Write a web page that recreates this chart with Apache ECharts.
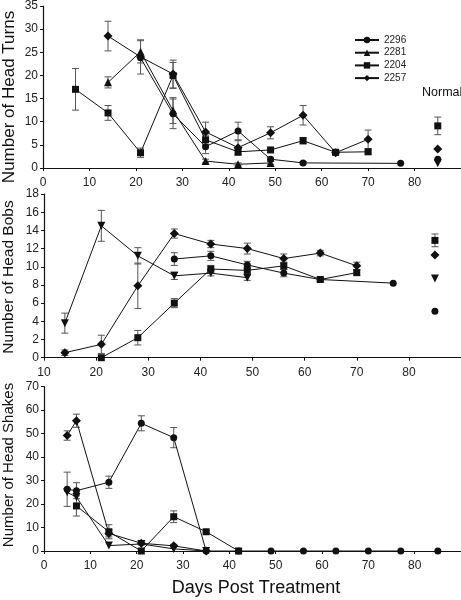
<!DOCTYPE html>
<html>
<head>
<meta charset="utf-8">
<script src="https://cdn.jsdelivr.net/npm/echarts@6/dist/echarts.min.js"></script>
<style>
html,body{margin:0;padding:0;background:#fff;}
#chart{width:461px;height:600px;}
</style>
</head>
<body>
<div id="chart"></div>
<script>
// ---------- DATA ----------
const seriesNames = ['2296', '2281', '2204', '2257'];
const normalDay = 85;

// Head Turns
const turnsDays2296 = [21, 28, 35, 42, 49, 56, 77];
const turns2296     = [23.8, 11.7, 4.6, 8.0, 1.9, 1.1, 1.0];
const turnsErr2296  = [0, 3.2, 1.5, 1.9, 0.4, 0.3, 0];
const turnsDays2281 = [14, 21, 28, 35, 42, 49];
const turns2281     = [18.5, 25.1, 12.4, 1.5, 0.8, 1.1];
const turnsErr2281  = [1.2, 2.4, 2.8, 0.4, 0.3, 0.3];
const turnsDays2204 = [7, 14, 21, 28, 35, 42, 49, 56, 63, 70];
const turns2204     = [17.0, 11.9, 3.3, 20.0, 6.1, 3.5, 3.9, 5.9, 3.4, 3.5];
const turnsErr2204  = [4.5, 1.6, 1.0, 2.8, 1.0, 0.8, 0.5, 0.7, 0.5, 0.4];
const turnsDays2257 = [14, 21, 28, 35, 42, 49, 56, 63, 70];
const turns2257     = [28.5, 24.0, 20.3, 7.8, 4.4, 7.6, 11.4, 3.3, 6.2];
const turnsErr2257  = [3.2, 3.7, 3.0, 2.1, 1.5, 1.3, 2.1, 0.5, 2.0];
const turnsNormal    = [1.9, 1.0, 9.1, 4.1];
const turnsNormalErr = [0, 0, 1.9, 0];

// Head Bobs
const bobsDays2296 = [35, 42, 49, 56, 63, 77];
const bobs2296     = [10.85, 11.2, 10.2, 9.3, 8.6, 8.2];
const bobsErr2296  = [0.7, 0.5, 0.4, 0.4, 0.2, 0];
const bobsDays2281 = [14, 21, 28, 35, 42, 49];
const bobs2281     = [3.8, 14.5, 11.2, 9.0, 9.3, 8.8];
const bobsErr2281  = [1.1, 1.7, 0.9, 0.4, 0.3, 0.3];
const bobsDays2204 = [21, 28, 35, 42, 49, 56, 63, 70];
const bobs2204     = [0, 2.2, 6.0, 9.75, 9.6, 10.1, 8.6, 9.35];
const bobsErr2204  = [0, 0.8, 0.5, 0.4, 0.5, 0.4, 0.2, 0.3];
const bobsDays2257 = [14, 21, 28, 35, 42, 49, 56, 63, 70];
const bobs2257     = [0.55, 1.47, 7.9, 13.65, 12.5, 12.0, 10.9, 11.5, 10.1];
const bobsErr2257  = [0.3, 1.0, 2.5, 0.5, 0.4, 0.6, 0.5, 0.3, 0.4];
const bobsNormal    = [5.1, 8.7, 12.9, 11.3];
const bobsNormalErr = [0, 0, 0.7, 0];

// Head Shakes
const shakesDays2296 = [5, 7, 14, 21, 28, 35, 42, 49, 56, 63, 70, 77];
const shakes2296     = [26.3, 25.7, 29.3, 54.4, 48.3, 0, 0, 0, 0, 0, 0, 0];
const shakesErr2296  = [7.3, 3.4, 2.6, 3.2, 4.3, 0, 0, 0, 0, 0, 0, 0];
const shakesDays2281 = [5, 7, 14, 21, 28, 35];
const shakes2281     = [25.0, 23.0, 2.3, 3.0, 0.9, 0];
const shakesErr2281  = [0, 0, 0, 0, 0, 0];
const shakesDays2204 = [7, 14, 21, 28, 35, 42];
const shakes2204     = [19.2, 8.2, 0, 14.6, 8.2, 0];
const shakesErr2204  = [4.3, 3.0, 0, 2.5, 0.5, 0];
const shakesDays2257 = [5, 7, 14, 21, 28, 35];
const shakes2257     = [49.2, 55.5, 7.5, 3.3, 2.2, 0];
const shakesErr2257  = [2.0, 2.8, 1.5, 0.8, 0.6, 0];
const shakesNormal    = [0, null, null, null];
const shakesNormalErr = [0, 0, 0, 0];

// Axis ticks
const yTurnsMax = 35, yTurnsStep = 5;
const yBobsMax = 18, yBobsStep = 2;
const yShakesMax = 70, yShakesStep = 10;

// ---------- CHART ----------
const FONT = 'Liberation Sans, Arial, Helvetica, sans-serif';
const INK = '#111';
const ERR = '#555';

const symbolsTop = [
  {symbol: 'circle', size: 7, rot: 0},
  {symbol: 'triangle', size: 8, rot: 0},
  {symbol: 'rect', size: 7, rot: 0},
  {symbol: 'diamond', size: 9, rot: 0}
];
const symbolsDown = [
  {symbol: 'circle', size: 7, rot: 0},
  {symbol: 'triangle', size: 8, rot: 180},
  {symbol: 'rect', size: 7, rot: 0},
  {symbol: 'diamond', size: 9, rot: 0}
];

function zip(days, vals) { return days.map((d, i) => [d, vals[i]]); }

function lineSeries(name, days, vals, sym, idx) {
  return {
    type: 'line', name: name, xAxisIndex: idx, yAxisIndex: idx,
    data: zip(days, vals),
    symbol: sym.symbol, symbolSize: sym.size, symbolRotate: sym.rot,
    showAllSymbol: true, clip: false, z: 3,
    lineStyle: {color: INK, width: 1},
    itemStyle: {color: INK, borderWidth: 0, opacity: 1},
    emphasis: {disabled: true},
    animation: false
  };
}

function errSeries(days, vals, errs, idx) {
  const data = [];
  days.forEach((d, i) => {
    if (vals[i] != null && errs[i] > 0) data.push([d, vals[i] - errs[i], vals[i] + errs[i]]);
  });
  return {
    type: 'custom', xAxisIndex: idx, yAxisIndex: idx, clip: false, z: 2,
    data: data, animation: false, silent: true,
    renderItem: function (params, api) {
      const x = api.value(0);
      const pLo = api.coord([x, api.value(1)]);
      const pHi = api.coord([x, api.value(2)]);
      const w = 3.5;
      const st = {stroke: ERR, lineWidth: 1};
      return {type: 'group', children: [
        {type: 'line', shape: {x1: pLo[0], y1: pLo[1], x2: pHi[0], y2: pHi[1]}, style: st},
        {type: 'line', shape: {x1: pLo[0] - w, y1: pLo[1], x2: pLo[0] + w, y2: pLo[1]}, style: st},
        {type: 'line', shape: {x1: pHi[0] - w, y1: pHi[1], x2: pHi[0] + w, y2: pHi[1]}, style: st}
      ]};
    }
  };
}

function normalSeries(vals, errs, syms, idx) {
  const out = [];
  vals.forEach((v, i) => {
    if (v == null) return;
    out.push({
      type: 'scatter', xAxisIndex: idx, yAxisIndex: idx, clip: false, z: 3,
      data: [[normalDay, v]], symbol: syms[i].symbol, symbolSize: syms[i].size,
      symbolRotate: syms[i].rot, itemStyle: {color: INK, opacity: 1},
      emphasis: {disabled: true}, animation: false, silent: true
    });
    if (errs[i] > 0) out.push(errSeries([normalDay], [v], [errs[i]], idx));
  });
  return out;
}

const panels = [
  {prefix: '', days: [turnsDays2296, turnsDays2281, turnsDays2204, turnsDays2257],
   vals: [turns2296, turns2281, turns2204, turns2257],
   errs: [turnsErr2296, turnsErr2281, turnsErr2204, turnsErr2257],
   normal: turnsNormal, normalErr: turnsNormalErr,
   syms: symbolsTop, normalSyms: symbolsDown},
  {prefix: 'bobs ', days: [bobsDays2296, bobsDays2281, bobsDays2204, bobsDays2257],
   vals: [bobs2296, bobs2281, bobs2204, bobs2257],
   errs: [bobsErr2296, bobsErr2281, bobsErr2204, bobsErr2257],
   normal: bobsNormal, normalErr: bobsNormalErr,
   syms: symbolsDown, normalSyms: symbolsDown},
  {prefix: 'shakes ', days: [shakesDays2296, shakesDays2281, shakesDays2204, shakesDays2257],
   vals: [shakes2296, shakes2281, shakes2204, shakes2257],
   errs: [shakesErr2296, shakesErr2281, shakesErr2204, shakesErr2257],
   normal: shakesNormal, normalErr: shakesNormalErr,
   syms: symbolsDown, normalSyms: symbolsDown}
];

const series = [];
panels.forEach((p, idx) => {
  for (let k = 0; k < 4; k++) {
    series.push(errSeries(p.days[k], p.vals[k], p.errs[k], idx));
  }
  for (let k = 0; k < 4; k++) {
    series.push(lineSeries(p.prefix + seriesNames[k], p.days[k], p.vals[k], p.syms[k], idx));
  }
  normalSeries(p.normal, p.normalErr, p.normalSyms, idx).forEach(s => series.push(s));
});

function xAxis(idx, min) {
  return {
    type: 'value', gridIndex: idx, min: min, max: 90, interval: 10,
    axisLine: {show: true, onZero: false, lineStyle: {color: INK, width: 1.2}},
    axisTick: {show: true, length: 3, lineStyle: {color: INK}},
    splitLine: {show: false},
    axisLabel: {fontSize: 12, color: '#222', fontFamily: FONT, margin: 9, showMaxLabel: false}
  };
}
function yAxis(idx, max, step) {
  return {
    type: 'value', gridIndex: idx, min: 0, max: max, interval: step,
    axisLine: {show: true, lineStyle: {color: INK, width: 1.2}},
    axisTick: {show: true, length: 3, lineStyle: {color: INK}},
    splitLine: {show: false},
    axisLabel: {fontSize: 12, color: '#222', fontFamily: FONT, margin: 5}
  };
}

const chart = echarts.init(document.getElementById('chart'), null, {renderer: 'canvas'});
chart.setOption({
  animation: false,
  backgroundColor: '#fff',
  grid: [
    {left: 43, top: 4.7, width: 423, height: 163.3},
    {left: 44, top: 194, width: 422, height: 163.7},
    {left: 44, top: 386.7, width: 420.3, height: 164.3}
  ],
  xAxis: [xAxis(0, 0), xAxis(1, 10), xAxis(2, 0)],
  yAxis: [yAxis(0, yTurnsMax, yTurnsStep), yAxis(1, yBobsMax, yBobsStep), yAxis(2, yShakesMax, yShakesStep)],
  legend: {
    data: seriesNames, orient: 'vertical', left: 349, top: 30,
    itemWidth: 24, itemHeight: 8, itemGap: 2.7,
    textStyle: {fontSize: 10, color: '#222', fontFamily: FONT, lineHeight: 10},
    selectedMode: false
  },
  graphic: [
    {type: 'text', x: 9, y: 97, rotation: Math.PI / 2,
     style: {text: 'Number of Head Turns', fontSize: 17, fontFamily: FONT, fill: '#111', textAlign: 'center', textVerticalAlign: 'middle'}},
    {type: 'text', x: 9, y: 277, rotation: Math.PI / 2,
     style: {text: 'Number of Head Bobs', fontSize: 15.5, fontFamily: FONT, fill: '#111', textAlign: 'center', textVerticalAlign: 'middle'}},
    {type: 'text', x: 9, y: 465, rotation: Math.PI / 2,
     style: {text: 'Number of Head Shakes', fontSize: 15, fontFamily: FONT, fill: '#111', textAlign: 'center', textVerticalAlign: 'middle'}},
    {type: 'text', x: 256, y: 588,
     style: {text: 'Days Post Treatment', fontSize: 18, fontFamily: FONT, fill: '#111', textAlign: 'center', textVerticalAlign: 'middle'}},
    {type: 'text', x: 422, y: 93,
     style: {text: 'Normal', fontSize: 12.5, fontFamily: FONT, fill: '#111', textAlign: 'left', textVerticalAlign: 'middle'}}
  ],
  series: series
});
</script>
</body>
</html>
